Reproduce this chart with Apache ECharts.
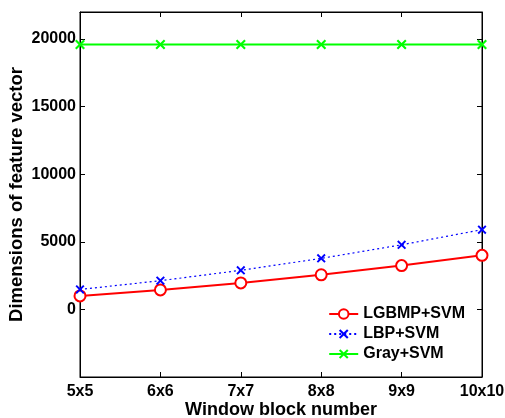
<!DOCTYPE html>
<html><head><meta charset="utf-8">
<script src="https://cdn.jsdelivr.net/npm/echarts@6/dist/echarts.min.js"></script>
<style>html,body{margin:0;padding:0;background:#fff}#c{width:505px;height:418px}</style>
</head><body><div id="c"></div>
<script>
const categories = ['5x5','6x6','7x7','8x8','9x9','10x10'];
const lgbmp = [1000, 1440, 1960, 2560, 3240, 4000];
const lbp = [1475, 2124, 2891, 3776, 4779, 5900];
const gray = [19600, 19600, 19600, 19600, 19600, 19600];
const yTicks = [0, 5000, 10000, 15000, 20000];

const X = 'path://M0,1.5L1.5,0L5,3.5L8.5,0L10,1.5L6.5,5L10,8.5L8.5,10L5,6.5L1.5,10L0,8.5L3.5,5Z';
const font = 'Liberation Sans, Arial, Helvetica, sans-serif';
const chart = echarts.init(document.getElementById('c'));
chart.setOption({
  animation: false,
  backgroundColor: '#fff',
  grid: {left: 80, right: 23, top: 12, bottom: 41, show: true, borderColor: '#000', borderWidth: 1,
    containLabel: false, outerBoundsMode: 'none'},
  textStyle: {fontFamily: font},
  legend: {
    right: 35, top: 301, orient: 'vertical', itemWidth: 29, itemHeight: 12, itemGap: 4,
    textStyle: {fontFamily: font, fontWeight: 'bold', fontSize: 16, color: '#000'},
    data: ['LGBMP+SVM', 'LBP+SVM', 'Gray+SVM']
  },
  xAxis: [{
    type: 'category', data: categories, boundaryGap: false,
    axisLine: {onZero: false, lineStyle: {color: '#000'}},
    axisTick: {inside: true, length: 5, lineStyle: {color: '#000'}},
    axisLabel: {color: '#000', fontWeight: 'bold', fontSize: 16, fontFamily: font, margin: 7},
    name: 'Window block number', nameLocation: 'middle', nameGap: 24, nameMoveOverlap: false,
    nameTextStyle: {color: '#000', fontWeight: 'bold', fontSize: 18, fontFamily: font},
    splitLine: {show: false}
  }, {
    type: 'category', data: categories, boundaryGap: false, position: 'top',
    axisLine: {onZero: false, lineStyle: {color: '#000'}},
    axisTick: {inside: true, length: 5, lineStyle: {color: '#000'}},
    axisLabel: {show: false}, splitLine: {show: false}
  }],
  yAxis: [{
    type: 'value', min: -5000, max: 22000, interval: 5000,
    axisLine: {show: true, lineStyle: {color: '#000'}},
    axisTick: {show: true, inside: true, length: 5, lineStyle: {color: '#000'}},
    axisLabel: {color: '#000', fontWeight: 'bold', fontSize: 16, fontFamily: font, margin: 4,
      formatter: v => yTicks.indexOf(v) >= 0 ? String(v) : ''},
    name: 'Dimensions of feature vector', nameLocation: 'middle', nameGap: 54, nameMoveOverlap: false,
    nameTextStyle: {color: '#000', fontWeight: 'bold', fontSize: 18.5, fontFamily: font},
    splitLine: {show: false}
  }, {
    type: 'value', min: -5000, max: 22000, interval: 5000, position: 'right',
    axisLine: {show: true, lineStyle: {color: '#000'}},
    axisTick: {show: true, inside: true, length: 5, lineStyle: {color: '#000'}},
    axisLabel: {show: false}, splitLine: {show: false}
  }],
  series: [{
    name: 'LGBMP+SVM', type: 'line', data: lgbmp,
    symbol: 'circle', symbolSize: 11, showAllSymbol: true,
    lineStyle: {color: '#ff0000', width: 2},
    itemStyle: {color: '#fff', borderColor: '#ff0000', borderWidth: 2}
  }, {
    name: 'LBP+SVM', type: 'line', data: lbp,
    symbol: X, symbolSize: 9, showAllSymbol: true,
    lineStyle: {color: '#0000ff', width: 1.2, type: [2, 3]},
    itemStyle: {color: '#0000ff'}
  }, {
    name: 'Gray+SVM', type: 'line', data: gray,
    symbol: X, symbolSize: 10, showAllSymbol: true,
    lineStyle: {color: '#00ff00', width: 2},
    itemStyle: {color: '#00ff00'}
  }]
});
</script></body></html>
